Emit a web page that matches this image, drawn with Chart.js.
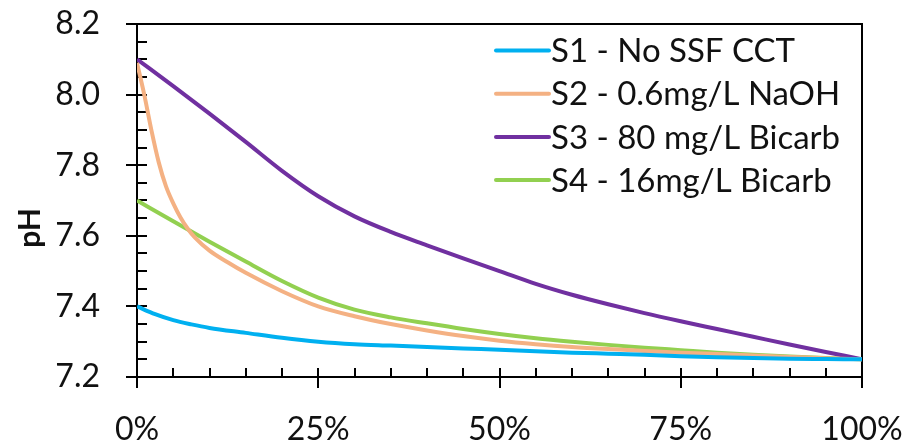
<!DOCTYPE html>
<html><head><meta charset="utf-8">
<script src="https://cdn.jsdelivr.net/npm/chart.js@4"></script>
<style>html,body{margin:0;padding:0;background:#fff}#wrap{width:908px;height:440px;position:relative}</style>
</head><body><div id="wrap"><canvas id="c" width="908" height="440"></canvas></div>
<script>
const seriesNames = ['S1 - No SSF CCT', 'S2 - 0.6mg/L NaOH', 'S3 - 80 mg/L Bicarb', 'S4 - 16mg/L Bicarb'];
const seriesColors = ['#00B0F0', '#F4B183', '#7030A0', '#92D050'];

const s1X = [0, 2.5, 5, 7.5, 10, 15, 20, 25, 30, 35, 40, 45, 50, 55, 60, 65, 70, 75, 80, 85, 90, 95, 100];
const s1Y = [7.40, 7.378, 7.361, 7.349, 7.339, 7.325, 7.311, 7.300, 7.293, 7.289, 7.285, 7.281, 7.277, 7.273, 7.269, 7.266, 7.263, 7.259, 7.256, 7.254, 7.252, 7.251, 7.25];

const s2X = [0, 1, 2, 3, 4, 5, 6, 7, 8, 10, 12.5, 15, 20, 25, 30, 35, 40, 45, 50, 55, 60, 65, 70, 75, 80, 85, 90, 95, 100];
const s2Y = [8.09, 8.00, 7.898, 7.808, 7.740, 7.692, 7.652, 7.620, 7.595, 7.558, 7.525, 7.495, 7.443, 7.400, 7.372, 7.350, 7.332, 7.316, 7.303, 7.293, 7.285, 7.279, 7.274, 7.269, 7.265, 7.261, 7.257, 7.253, 7.25];

const s3X = [0, 5, 10, 15, 20, 25, 30, 35, 40, 45, 50, 55, 60, 65, 70, 75, 80, 85, 90, 95, 100];
const s3Y = [8.10, 8.024, 7.946, 7.866, 7.784, 7.712, 7.655, 7.611, 7.573, 7.536, 7.500, 7.464, 7.433, 7.406, 7.381, 7.358, 7.336, 7.314, 7.292, 7.271, 7.25];

const s4X = [0, 5, 10, 15, 20, 25, 30, 35, 40, 45, 50, 55, 60, 65, 70, 75, 80, 85, 90, 95, 100];
const s4Y = [7.70, 7.641, 7.583, 7.527, 7.472, 7.425, 7.391, 7.369, 7.352, 7.336, 7.322, 7.310, 7.300, 7.291, 7.283, 7.276, 7.269, 7.263, 7.258, 7.254, 7.25];

const xTickLabels = ['0%', '25%', '50%', '75%', '100%'];
const yTickLabels = ['7.2', '7.4', '7.6', '7.8', '8.0', '8.2'];
const yAxisTitle = 'pH';

const FONT = 'Lato, "Open Sans", sans-serif';
const TXT = '#111';

function pairs(xs, ys) { return xs.map((x, i) => ({ x: x, y: ys[i] })); }
const allX = [s1X, s2X, s3X, s4X];
const allY = [s1Y, s2Y, s3Y, s4Y];

const datasets = seriesNames.map((n, i) => ({
  label: n,
  data: pairs(allX[i], allY[i]),
  borderColor: seriesColors[i],
  backgroundColor: seriesColors[i],
  borderWidth: 4,
  pointRadius: 0,
  cubicInterpolationMode: 'monotone',
  fill: false
}));

const decor = {
  id: 'decor',
  beforeDatasetsDraw(chart) {
    const ctx = chart.ctx, xs = chart.scales.x, ys = chart.scales.y, a = chart.chartArea;
    ctx.save();
    ctx.strokeStyle = '#000';
    ctx.lineWidth = 2;
    ctx.beginPath();
    for (let k = 0; k <= 20; k++) {
      const v = k * 5;
      const px = Math.round(xs.getPixelForValue(v));
      const major = k % 5 === 0;
      ctx.moveTo(px, a.bottom - 9);
      ctx.lineTo(px, major ? a.bottom + 11 : a.bottom);
    }
    for (let k = 0; k <= 20; k++) {
      const v = 7.2 + k * 0.05;
      const py = Math.round(ys.getPixelForValue(v));
      const major = k % 4 === 0;
      ctx.moveTo(major ? a.left - 11 : a.left, py);
      ctx.lineTo(a.left + 10, py);
    }
    ctx.moveTo(a.left - 11, Math.round(a.top));
    ctx.lineTo(a.right + 1, Math.round(a.top));
    ctx.moveTo(Math.round(a.right), a.top);
    ctx.lineTo(Math.round(a.right), a.bottom);
    ctx.stroke();
    ctx.restore();
  },
  afterDraw(chart) {
    const ctx = chart.ctx;
    ctx.save();
    ctx.fillStyle = TXT;
    ctx.font = 'bold 30px ' + FONT;
    ctx.textAlign = 'center';
    ctx.textBaseline = 'middle';
    ctx.translate(30, 228);
    ctx.rotate(-Math.PI / 2);
    ctx.fillText(yAxisTitle, 0, 0);
    ctx.restore();
    ctx.save();
    ctx.font = '33px ' + FONT;
    ctx.textBaseline = 'middle';
    ctx.textAlign = 'left';
    chart.data.datasets.forEach((d, i) => {
      const y = 50.5 + i * 43.2;
      ctx.strokeStyle = d.borderColor;
      ctx.lineWidth = 4;
      ctx.lineCap = 'round';
      ctx.beginPath();
      ctx.moveTo(496, y);
      ctx.lineTo(549, y);
      ctx.stroke();
      ctx.fillStyle = TXT;
      ctx.fillText(d.label, 551, y + 1);
    });
    ctx.restore();
  }
};

new Chart(document.getElementById('c'), {
  type: 'line',
  data: { datasets: datasets },
  options: {
    responsive: false,
    animation: false,
    devicePixelRatio: 1,
    layout: { padding: { left: 0, top: 24, right: 46, bottom: 0 } },
    plugins: { legend: { display: false }, tooltip: { enabled: false } },
    scales: {
      x: {
        type: 'linear', min: 0, max: 100,
        afterBuildTicks(s) { s.ticks = xTickLabels.map((t, i) => ({ value: i * 25 })); },
        ticks: {
          callback: (v, i) => xTickLabels[i],
          font: { family: FONT, size: 32 }, color: TXT, padding: 0, maxRotation: 0, autoSkip: false
        },
        grid: { display: true, drawOnChartArea: false, drawTicks: true, tickLength: 33, tickColor: 'rgba(0,0,0,0)' },
        border: { display: true, color: '#000', width: 2 },
        afterFit(s) { s.height = 63; }
      },
      y: {
        type: 'linear', min: 7.2, max: 8.2,
        afterBuildTicks(s) { s.ticks = yTickLabels.map(t => ({ value: parseFloat(t) })); },
        ticks: {
          callback: (v, i) => yTickLabels[i],
          font: { family: FONT, size: 32 }, color: TXT, padding: 0, autoSkip: false
        },
        grid: { display: true, drawOnChartArea: false, drawTicks: true, tickLength: 37, tickColor: 'rgba(0,0,0,0)' },
        border: { display: true, color: '#000', width: 2 },
        afterFit(s) { s.width = 137; }
      }
    }
  },
  plugins: [decor]
});
</script>
</body></html>
